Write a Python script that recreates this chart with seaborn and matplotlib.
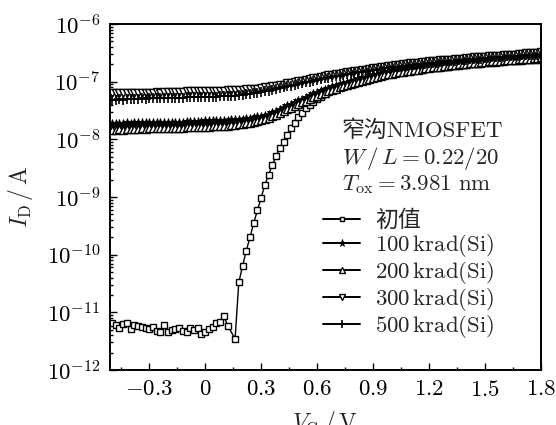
import numpy as np
import pandas as pd
import matplotlib
matplotlib.use("Agg")
import matplotlib.pyplot as plt
import seaborn as sns
from matplotlib.ticker import FixedLocator, FuncFormatter, LogLocator, NullFormatter

# Gate voltage sweep (V)
VG = np.round(np.linspace(-0.5, 1.8, 116), 2)

# log10(I_D / A)
pre_rad = [-11.18, -11.22, -11.27, -11.20, -11.18, -11.29, -11.22, -11.23, -11.26, -11.27,
           -11.29, -11.25, -11.32, -11.34, -11.22, -11.34, -11.30, -11.29, -11.27, -11.32,
           -11.34, -11.27, -11.30, -11.27, -11.37, -11.34, -11.29, -11.25, -11.18, -11.16,
           -11.06, -11.23, np.nan, -11.46,
           -10.48, -10.20, -9.93, -9.70, -9.45, -9.23, -9.01, -8.79, -8.61, -8.44, -8.29, -8.15,
           -8.04, -7.92, -7.81, -7.71, -7.62, -7.54, -7.46, -7.40, -7.35, -7.30, -7.26, -7.22, -7.18, -7.15, -7.12,
           -7.09, -7.06, -7.04, -7.02, -7.00, -6.98, -6.96, -6.95, -6.93, -6.92, -6.90, -6.89, -6.88, -6.87, -6.86,
           -6.85, -6.84, -6.83, -6.82, -6.81, -6.80, -6.79, -6.79, -6.78, -6.77, -6.76, -6.76, -6.75, -6.74, -6.74,
           -6.73, -6.73, -6.72, -6.71, -6.71,
           -6.70, -6.70, -6.69, -6.69, -6.68, -6.68, -6.67, -6.67, -6.66, -6.66, -6.65, -6.65, -6.65, -6.64, -6.64,
           -6.63, -6.63, -6.63, -6.62, -6.62]

krad100 = [-7.73, -7.73, -7.73, -7.73, -7.72, -7.73, -7.72, -7.72, -7.72, -7.72, -7.72, -7.72, -7.71,
           -7.72, -7.71, -7.71, -7.71, -7.71, -7.71, -7.71, -7.70, -7.70, -7.70, -7.70, -7.70, -7.69,
           -7.69, -7.69, -7.69, -7.68, -7.68, -7.68, -7.67, -7.67, -7.66, -7.66, -7.65, -7.64, -7.63, -7.62, -7.61,
           -7.59, -7.57, -7.55, -7.52, -7.49, -7.46, -7.43, -7.40, -7.37, -7.34, -7.31, -7.28, -7.25, -7.22, -7.19,
           -7.17, -7.14, -7.12, -7.10, -7.08, -7.06, -7.04, -7.02, -7.00, -6.98, -6.96, -6.94, -6.93, -6.91, -6.89,
           -6.88, -6.86, -6.85, -6.83, -6.82,
           -6.81, -6.80, -6.79, -6.78, -6.77, -6.76, -6.75, -6.74, -6.73, -6.72, -6.71, -6.70, -6.70, -6.69, -6.68,
           -6.67, -6.67, -6.66, -6.65, -6.65,
           -6.64, -6.64, -6.63, -6.62, -6.62, -6.61, -6.61, -6.60, -6.60, -6.59, -6.59, -6.58, -6.58, -6.57, -6.57,
           -6.56, -6.56, -6.55, -6.55, -6.54]

krad200 = [-7.83, -7.83, -7.82, -7.83, -7.82, -7.82, -7.82, -7.82, -7.81, -7.82, -7.81, -7.81, -7.81,
           -7.81, -7.81, -7.80, -7.80, -7.80, -7.80, -7.80, -7.79, -7.79, -7.79, -7.79, -7.78, -7.78,
           -7.78, -7.77, -7.77, -7.77, -7.76, -7.76, -7.75, -7.75, -7.74, -7.73, -7.72, -7.71, -7.70, -7.69, -7.67,
           -7.65, -7.63, -7.60, -7.57, -7.54, -7.51, -7.48, -7.45, -7.42, -7.39, -7.36, -7.33, -7.30, -7.27, -7.24,
           -7.22, -7.19, -7.17, -7.14, -7.12, -7.10, -7.08, -7.06, -7.04, -7.02, -7.00, -6.98, -6.97, -6.95, -6.93,
           -6.92, -6.90, -6.89, -6.87, -6.86,
           -6.85, -6.84, -6.83, -6.82, -6.81, -6.80, -6.79, -6.78, -6.77, -6.76, -6.75, -6.74, -6.74, -6.73, -6.72,
           -6.71, -6.71, -6.70, -6.69, -6.69,
           -6.68, -6.68, -6.67, -6.66, -6.66, -6.65, -6.65, -6.64, -6.64, -6.63, -6.63, -6.62, -6.62, -6.61, -6.61,
           -6.60, -6.60, -6.59, -6.59, -6.58]

krad300 = [-7.20, -7.20, -7.20, -7.20, -7.19, -7.20, -7.19, -7.19, -7.19, -7.19, -7.19, -7.19, -7.18,
           -7.19, -7.18, -7.18, -7.18, -7.18, -7.18, -7.18, -7.17, -7.17, -7.17, -7.17, -7.17, -7.17,
           -7.17, -7.16, -7.16, -7.16, -7.16, -7.15, -7.15, -7.15, -7.14, -7.14, -7.13, -7.13, -7.12, -7.12, -7.11,
           -7.10, -7.09, -7.08, -7.07, -7.06, -7.05, -7.03, -7.02, -7.01, -6.99, -6.98, -6.97, -6.95, -6.94, -6.93,
           -6.92, -6.90, -6.89, -6.88, -6.87, -6.86, -6.85, -6.84, -6.83, -6.82, -6.81, -6.80, -6.79, -6.78, -6.77,
           -6.76, -6.75, -6.74, -6.73, -6.72,
           -6.71, -6.71, -6.70, -6.69, -6.68, -6.68, -6.67, -6.66, -6.66, -6.65, -6.64, -6.64, -6.63, -6.63, -6.62,
           -6.62, -6.61, -6.60, -6.60, -6.59,
           -6.59, -6.58, -6.58, -6.57, -6.57, -6.56, -6.56, -6.55, -6.55, -6.54, -6.54, -6.53, -6.53, -6.52, -6.52,
           -6.51, -6.51, -6.50, -6.50, -6.49]

krad500 = [-7.31, -7.31, -7.30, -7.31, -7.30, -7.30, -7.30, -7.30, -7.29, -7.30, -7.29, -7.29, -7.29,
           -7.29, -7.29, -7.28, -7.28, -7.28, -7.28, -7.28, -7.27, -7.27, -7.27, -7.27, -7.27, -7.26,
           -7.26, -7.26, -7.26, -7.25, -7.25, -7.25, -7.24, -7.24, -7.23, -7.23, -7.22, -7.21, -7.20, -7.19, -7.18,
           -7.17, -7.16, -7.14, -7.13, -7.11, -7.10, -7.08, -7.07, -7.05, -7.04, -7.02, -7.01, -7.00, -6.98, -6.97,
           -6.96, -6.94, -6.93, -6.92, -6.91, -6.90, -6.88, -6.87, -6.86, -6.85, -6.84, -6.83, -6.82, -6.81, -6.80,
           -6.79, -6.78, -6.77, -6.76, -6.75,
           -6.74, -6.74, -6.73, -6.72, -6.71, -6.71, -6.70, -6.69, -6.69, -6.68, -6.67, -6.67, -6.66, -6.65, -6.65,
           -6.64, -6.64, -6.63, -6.62, -6.62,
           -6.61, -6.61, -6.60, -6.60, -6.59, -6.59, -6.58, -6.58, -6.57, -6.57, -6.56, -6.56, -6.55, -6.55, -6.54,
           -6.54, -6.53, -6.53, -6.53, -6.52]

labels = ["初值", r"$100\,\mathrm{krad(Si)}$", r"$200\,\mathrm{krad(Si)}$",
          r"$300\,\mathrm{krad(Si)}$", r"$500\,\mathrm{krad(Si)}$"]
series = [pre_rad, krad100, krad200, krad300, krad500]
x_ticks = [-0.3, 0, 0.3, 0.6, 0.9, 1.2, 1.5, 1.8]

sns.set_theme(style="ticks")
plt.rcParams["font.family"] = ["cmr10", "Noto Sans CJK SC", "DejaVu Sans"]
plt.rcParams["mathtext.fontset"] = "cm"
plt.rcParams["axes.formatter.use_mathtext"] = True
plt.rcParams["axes.unicode_minus"] = True

fig = plt.figure(figsize=(5.56, 4.25), dpi=100)
ax = fig.add_axes([0.198, 0.1294, 0.775, 0.8141])

styles = [
    dict(marker="s", markersize=4.4, markerfacecolor="white", markeredgecolor="black", markeredgewidth=1.0),
    dict(marker="*", markersize=7.0, markerfacecolor="black", markeredgecolor="black", markeredgewidth=0.6),
    dict(marker="^", markersize=5.6, markerfacecolor="white", markeredgecolor="black", markeredgewidth=1.0),
    dict(marker="v", markersize=5.6, markerfacecolor="white", markeredgecolor="black", markeredgewidth=1.0),
    dict(marker="+", markersize=7.0, markerfacecolor="black", markeredgecolor="black", markeredgewidth=1.2),
]

for vals, lab, st in zip(series, labels, styles):
    df = pd.DataFrame({"VG": VG, "ID": 10.0 ** np.array(vals, dtype=float)})
    sns.lineplot(data=df, x="VG", y="ID", ax=ax, color="black", linewidth=1.0,
                 estimator=None, sort=False, label=lab, **st)

ax.set_yscale("log")
ax.set_ylim(1e-12, 1e-6)
ax.set_xlim(-0.51, 1.8)

ax.xaxis.set_major_locator(FixedLocator(x_ticks))
ax.xaxis.set_minor_locator(FixedLocator([-0.45, -0.15, 0.15, 0.45, 0.75, 1.05, 1.35, 1.65]))
ax.xaxis.set_major_formatter(FuncFormatter(lambda v, p: "$0$" if abs(v) < 1e-9 else f"${v:.1f}$"))
ax.yaxis.set_major_locator(LogLocator(base=10, numticks=20))
ax.yaxis.set_minor_locator(LogLocator(base=10, subs=np.arange(2, 10), numticks=20))
ax.yaxis.set_minor_formatter(NullFormatter())

ax.tick_params(which="both", direction="in", top=False, right=False, colors="black",
               labelsize=16.5, width=1.0)
ax.tick_params(which="major", length=5, pad=7)
ax.tick_params(which="minor", length=2.5)
for s in ax.spines.values():
    s.set_linewidth(1.4)
    s.set_color("black")

ax.set_xlabel(r"$V_{\mathrm{G}}\,/\,\mathrm{V}$", fontsize=17, labelpad=7)
ax.set_ylabel(r"$I_{\mathrm{D}}\,/\,\mathrm{A}$", fontsize=17, labelpad=8)

fig.text(0.615, 0.694, "窄沟NMOSFET", fontsize=16.5, va="center", ha="left")
fig.text(0.615, 0.628, r"$W\,/\,L=0.22/20$", fontsize=16.5, va="center", ha="left")
fig.text(0.615, 0.565, r"$T_{\mathrm{ox}}=3.981\ \mathrm{nm}$", fontsize=16.5, va="center", ha="left")

leg = ax.legend(loc="upper left", bbox_to_anchor=(0.458, 0.512), frameon=False, fontsize=16.5,
                handlelength=1.6, handletextpad=0.65, labelspacing=0.0, borderpad=0.2,
                markerscale=0.75)
for ln in leg.get_lines():
    ln.set_linewidth(1.4)
leg.get_texts()[0].set_fontfamily(["Noto Sans CJK SC"])

fig.savefig("out.png", dpi=100)
